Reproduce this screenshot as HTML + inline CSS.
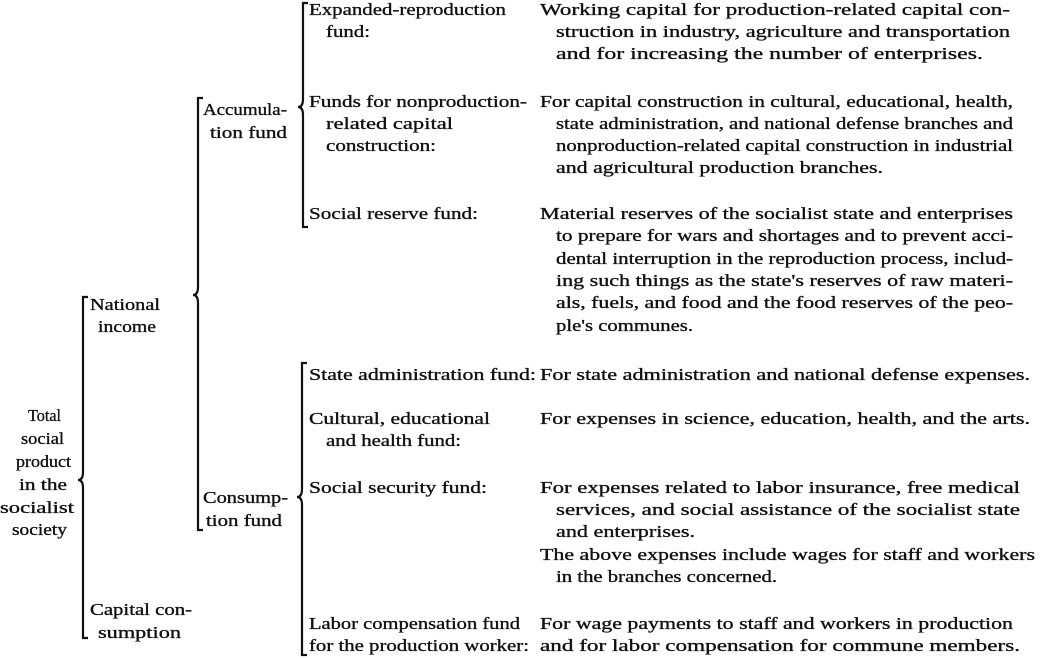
<!DOCTYPE html>
<html><head><meta charset="utf-8"><style>
html,body{margin:0;padding:0;background:#fff;}
svg{display:block;}
text{font-family:"Liberation Serif",serif;font-size:17px;fill:#111;stroke:#111;stroke-width:0.35px;}
</style></head><body>
<svg id="s" width="1040" height="659" viewBox="0 0 1040 659">
<g id="brackets" fill="none" stroke="#111" stroke-width="2.2"></g>
<g id="texts"></g>
</svg>
<script>
const NS='http://www.w3.org/2000/svg';
const bracketDefs=[
 ['total-bracket',83,297,638,480],
 ['national-income-bracket',198,98,530,295],
 ['accumulation-bracket',303,3,227,107],
 ['consumption-bracket',302,363,655,497]
];
const bg=document.getElementById('brackets');
bracketDefs.forEach(b=>{
 const [n,x,t,bt,m]=b;
 const p=document.createElementNS(NS,'path');
 p.setAttribute('d',`M${x+5},${t} L${x},${t} L${x},${m-8} Q${x},${m} ${x-5},${m} Q${x},${m} ${x},${m+8} L${x},${bt} L${x+5},${bt}`);
 
 
 bg.appendChild(p);
});
const lines=[
['Expanded-reproduction',309,506,9],['fund:',326,370,31],
['Working capital for production-related capital con-',540,1010,9],
['struction in industry, agriculture and transportation',556,1010,31],
['and for increasing the number of enterprises.',556,983,53],
['Funds for nonproduction-',309,527,101],['related capital',326,453,123],['construction:',326,436,145],
['For capital construction in cultural, educational, health,',540,1013,101],
['state administration, and national defense branches and',556,1013,123],
['nonproduction-related capital construction in industrial',556,1013,145],
['and agricultural production branches.',556,883,167],
['Social reserve fund:',309,478,213],
['Material reserves of the socialist state and enterprises',540,1013,213],
['to prepare for wars and shortages and to prevent acci-',556,1013,235],
['dental interruption in the reproduction process, includ-',556,1013,258],
["ing such things as the state's reserves of raw materi-",556,1013,280],
['als, fuels, and food and the food reserves of the peo-',556,1013,302],
["ple's communes.",556,693,325],
['State administration fund:',309,536,374],
['For state administration and national defense expenses.',540,1030,374],
['Cultural, educational',309,490,418],['and health fund:',326,461,440],
['For expenses in science, education, health, and the arts.',540,1030,418],
['Social security fund:',309,487,487],
['For expenses related to labor insurance, free medical',540,1020,487],
['services, and social assistance of the socialist state',556,1020,509],
['and enterprises.',556,695,531],
['The above expenses include wages for staff and workers',540,1035,554],
['in the branches concerned.',556,777,576],
['Labor compensation fund',309,520,623],['for the production worker:',309,529,645],
['For wage payments to staff and workers in production',540,1013,623],
['and for labor compensation for commune members.',540,1020,645],
['Accumula-',203,287,109],['tion fund',210,287,132],
['National',90,160,304],['income',98,156,326],
['Total',28,61,415],['social',21,64,438],['product',16,71,461],['in the',19,67,484],['socialist',0,74,507],['society',12,67,529],
['Consump-',203,288,497],['tion fund',206,282,520],
['Capital con-',90,192,609],['sumption',98,181,632]
];
const tg=document.getElementById('texts');
lines.forEach(l=>{
 const t=document.createElementNS(NS,'text');
 t.setAttribute('x',l[1]);
 t.setAttribute('y',l[3]+6);
 t.setAttribute('textLength',l[2]-l[1]);
 t.setAttribute('lengthAdjust','spacingAndGlyphs');
 t.textContent=l[0];
 
 
 tg.appendChild(t);
});
</script>
</body></html>
